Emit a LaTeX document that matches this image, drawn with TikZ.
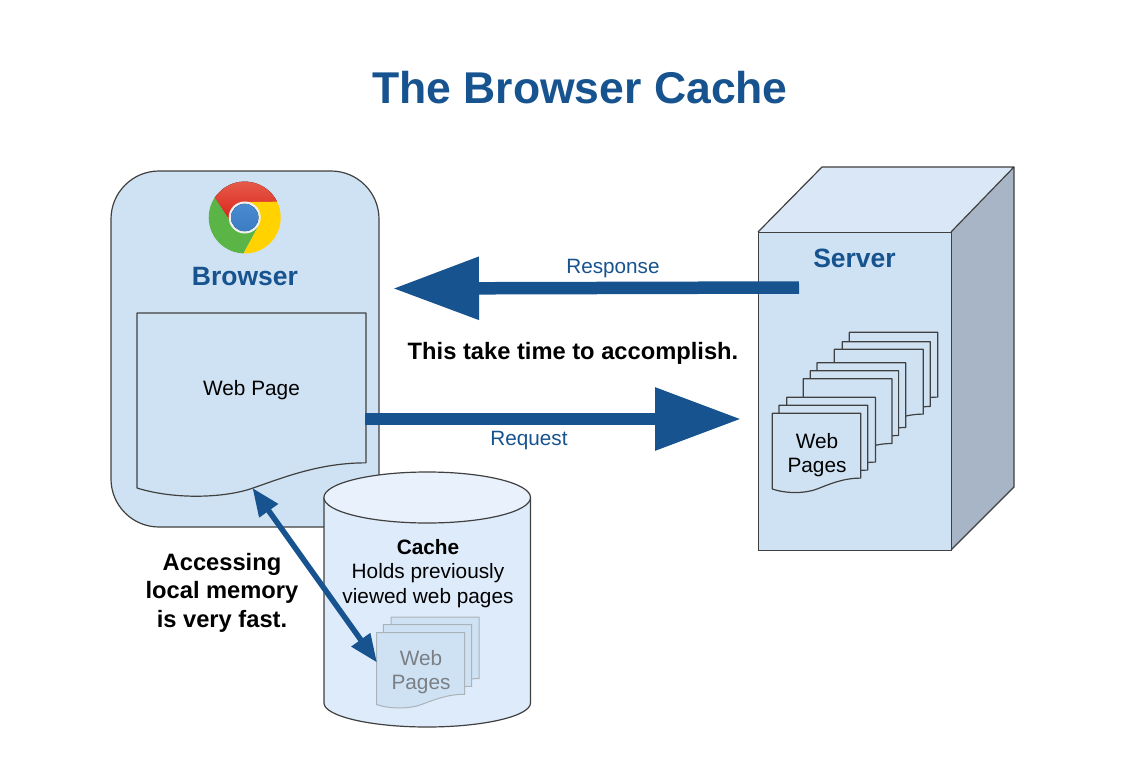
\documentclass[tikz,border=0pt]{standalone}
\usepackage{fontspec}
\setmainfont{Liberation Sans}
\usetikzlibrary{arrows.meta}
\definecolor{paneblue}{HTML}{CFE2F3}
\definecolor{inkblue}{HTML}{16538F}
\definecolor{edge}{HTML}{404040}
\definecolor{topblue}{HTML}{DAE7F6}
\definecolor{sideblue}{HTML}{A7B5C6}
\definecolor{cylbody}{HTML}{DEEBFA}
\definecolor{cyltop}{HTML}{E9F2FC}
\definecolor{ghost}{HTML}{ABB3BA}
\definecolor{ghosttext}{HTML}{7A7F85}
\definecolor{chromered}{HTML}{D9251A}
\definecolor{chromeredlight}{HTML}{E8604F}
\definecolor{chromegreen}{HTML}{5BB446}
\definecolor{chromeyellow}{HTML}{FFD200}
\definecolor{chromeblue}{HTML}{4A8ACF}
\definecolor{chromebluedark}{HTML}{3C7CC4}
\definecolor{chromering}{HTML}{EEF1F4}
\newcommand\fsz[2]{\fontsize{#1}{#2}\selectfont}
\newcommand\docpage[5]{%
  \draw[#1,shift={(#2,#3)},xscale=#4/100,yscale=#5/100]
    (0,0) -- (100,0) -- (100,81)
    .. controls (80,81) and (64.6,88.6) .. (50.7,94.6)
    .. controls (38.4,100) and (16.6,101) .. (0,94.6) -- cycle;}
\tikzset{
  shapeline/.style={draw=edge,line width=1.2pt,line join=round},
  pagesheet/.style={shapeline,fill=paneblue},
  ghostsheet/.style={draw=ghost,line width=1pt,fill=paneblue},
  bigarrow/.style={draw=inkblue,line width=12.5pt,-{Triangle[length=86pt,width=60pt,fill=inkblue]}},
  linkarrow/.style={draw=inkblue,line width=5.5pt,{Triangle[length=28pt,width=22pt,fill=inkblue]}-{Triangle[length=28pt,width=22pt,fill=inkblue]}},
  titletext/.style={font=\bfseries\fsz{44.5}{50},text=inkblue,inner sep=0},
  headtext/.style={font=\bfseries\fsz{26.5}{30},text=inkblue,inner sep=0},
  notetext/.style={font=\bfseries\fsz{23.7}{28.5},align=center,inner sep=0},
  linktext/.style={font=\fsz{20.7}{24},text=inkblue,inner sep=0},
  bodytext/.style={font=\fsz{20.8}{24.5},align=center,inner sep=0},
}
\begin{document}
\begin{tikzpicture}[x=1pt,y=-1pt]
\useasboundingbox (0,0) rectangle (1141,768);
\fill[white] (0,0) rectangle (1141,768);

\node[titletext] (title) at (580,87.5) {The Browser Cache};

% Server box
\fill[sideblue] (951,232) -- (1014,167) -- (1014,487) -- (951,550) -- cycle;
\fill[topblue] (758,232) -- (822,167) -- (1014,167) -- (951,232) -- cycle;
\draw[shapeline] (758,232) -- (822,167) -- (1014,167) -- (951,232);
\draw[shapeline] (1014,167) -- (1014,487) -- (951,550);
\node[draw=edge,line width=1.2pt,fill=paneblue,minimum width=193pt,minimum height=318pt,inner sep=0,anchor=north west] (server) at (758,232) {};
\node[headtext] (servername) at (854.5,258.5) {Server};

% Server pages
\docpage{pagesheet}{849.3}{332.3}{88.5}{80}
\docpage{pagesheet}{842.3}{341.7}{88}{80}
\docpage{pagesheet}{834.3}{349.3}{89}{80}
\docpage{pagesheet}{817}{362.7}{88.7}{80}
\docpage{pagesheet}{810.3}{370.7}{88.3}{80}
\docpage{pagesheet}{803.3}{378.7}{88.7}{80}
\docpage{pagesheet}{786.7}{397.3}{88.7}{80}
\docpage{pagesheet}{779}{405.3}{88.7}{80}
\docpage{pagesheet}{772.3}{413.3}{88.4}{80}
\node[bodytext] (serverpages) at (817,455) {Web\\Pages};

% Browser
\node[draw=edge,line width=1.2pt,fill=paneblue,rounded corners=48pt,minimum width=268pt,minimum height=356pt,inner sep=0] (browser) at (245,349) {};
\begin{scope}[shift={(244.7,217.5)},yscale=-1]
  \fill[top color=chromeredlight,bottom color=chromered] (0,15.7) -- (32.4,15.7) arc (26:146.5:36) -- (-15,-3) -- cycle;
  \fill[chromegreen] (-30,19.9) arc (146.5:268:36) -- (14,-8) -- (-15,-3) -- cycle;
  \fill[chromeyellow] (-1.2,-36) arc (268:386:36) -- (0,15.7) -- (14,-8) -- cycle;
  \fill[chromering] (0,0) circle (16);
  \fill[top color=chromeblue,bottom color=chromebluedark] (0,0) circle (13.7);
\end{scope}
\node[headtext] (browsername) at (245,276.5) {Browser};
\docpage{shapeline,fill=paneblue}{137}{313}{229}{185}
\node[bodytext] (webpage) at (251.5,390) {Web Page};

% Cache cylinder
\draw[shapeline,fill=cylbody] (324,498) -- (324,703)
  .. controls (324,716) and (370,727) .. (427,727)
  .. controls (484,727) and (530.5,716) .. (530.5,703) -- (530.5,498) -- cycle;
\draw[shapeline,fill=cyltop] (427.2,497.5) ellipse [x radius=103.3,y radius=25.5];
\node[bodytext] (cachetext) at (428,573.5) {\textbf{Cache}\\Holds previously\\viewed web pages};
\docpage{ghostsheet}{391}{617}{88}{76}
\docpage{ghostsheet}{383.3}{624.7}{88.3}{76}
\docpage{ghostsheet}{376.7}{632.7}{88}{76}
\node[bodytext,text=ghosttext] (cachepages) at (421,672) {Web\\Pages};

% Connectors
\coordinate (respfrom) at (799,287.5);
\coordinate (respto) at (393,288.5);
\coordinate (reqfrom) at (365,419);
\coordinate (reqto) at (741,419);
\coordinate (docnear) at (252.5,488);
\coordinate (cachenear) at (377,662.5);
\draw[bigarrow] (respfrom) -- (respto);
\draw[bigarrow] (reqfrom) -- (reqto);
\draw[linkarrow] (docnear) -- (cachenear);
\node[linktext] (response) at (613,269) {Response};
\node[linktext] (request) at (529,441) {Request};
\node[notetext] (slownote) at (573,353) {This take time to accomplish.};
\node[notetext] (fastnote) at (222,592.5) {Accessing\\local memory\\is very fast.};
\end{tikzpicture}
\end{document}
